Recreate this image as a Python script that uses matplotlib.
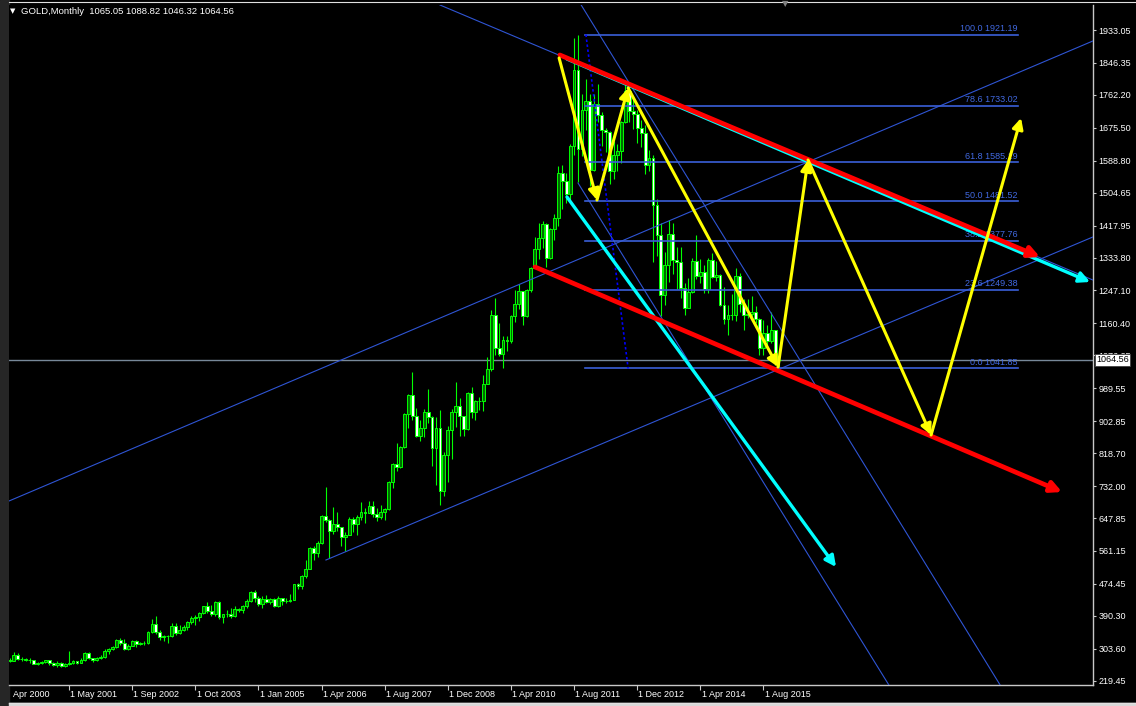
import numpy as np
import matplotlib.pyplot as plt
from matplotlib.lines import Line2D
from matplotlib.patches import Rectangle
import matplotlib.transforms as mtransforms

plt.rcParams['font.family'] = ['Liberation Sans', 'DejaVu Sans']

# monthly candles (open, high, low, close), one tuple per bar as drawn on the chart
ohlc_2000 = [(279, 288, 270, 274), (274, 280, 268, 272), (272, 294, 270, 288), (288, 292, 275, 277),
             (277, 282, 270, 277), (277, 280, 272, 275), (275, 278, 267, 273), (273, 275, 263, 264),
             (264, 268, 262, 266), (266, 272, 263, 269), (269, 275, 267, 273), (273, 274, 262, 265),
             (265, 268, 258, 262), (262, 272, 255, 267), (267, 268, 255, 258), (258, 266, 255, 263)]
ohlc_2001 = [(263, 298, 262, 267), (267, 275, 263, 270), (270, 272, 263, 265), (265, 280, 265, 273),
             (273, 294, 271, 293), (293, 294, 276, 279), (279, 280, 269, 275), (275, 282, 271, 279)]
ohlc_2002 = [(279, 288, 277, 282), (282, 304, 280, 297), (297, 305, 290, 302), (302, 312, 300, 308),
             (308, 328, 306, 326), (326, 332, 313, 318), (318, 330, 300, 304), (304, 316, 300, 312),
             (312, 327, 311, 324), (324, 326, 309, 317), (317, 322, 313, 318), (318, 323, 313, 318),
             (318, 350, 316, 347)]
ohlc_2003 = [(347, 383, 345, 368), (368, 390, 343, 347), (347, 352, 327, 334), (334, 340, 325, 336),
             (336, 341, 319, 336), (336, 372, 335, 364), (364, 372, 340, 346), (346, 367, 342, 354),
             (354, 366, 350, 360), (360, 376, 353, 375), (375, 391, 370, 385), (385, 393, 367, 386),
             (386, 401, 376, 398), (398, 417, 396, 416)]
ohlc_2004 = [(416, 427, 398, 402), (402, 418, 390, 396), (396, 430, 389, 427), (427, 429, 382, 387),
             (387, 396, 371, 394), (394, 405, 386, 395), (395, 410, 384, 391), (391, 416, 388, 408),
             (408, 412, 400, 406), (406, 420, 398, 416), (416, 434, 410, 429), (429, 456, 427, 453),
             (453, 457, 426, 438)]
ohlc_2005 = [(438, 442, 417, 422), (422, 443, 411, 435), (435, 445, 424, 428), (428, 438, 422, 435),
             (435, 437, 414, 416), (416, 442, 414, 436), (436, 437, 418, 430), (430, 436, 424, 429),
             (429, 448, 426, 433), (433, 474, 432, 473), (473, 477, 460, 470), (470, 497, 460, 495),
             (495, 538, 489, 513)]
ohlc_2006 = [(513, 571, 513, 568), (568, 574, 538, 556), (556, 587, 544, 582), (582, 655, 579, 654),
             (654, 730, 638, 643), (643, 644, 543, 614), (614, 677, 607, 633), (633, 663, 613, 624),
             (624, 625, 573, 599), (599, 610, 560, 604), (604, 650, 602, 646), (646, 650, 612, 632)]
ohlc_2007 = [(632, 656, 603, 650), (650, 690, 642, 665), (665, 673, 636, 662), (662, 692, 660, 679),
             (679, 692, 651, 659), (659, 673, 639, 650), (650, 683, 645, 665), (665, 675, 642, 672),
             (672, 745, 670, 743), (743, 794, 726, 789), (789, 845, 772, 783), (783, 838, 780, 834)]
ohlc_2008 = [(834, 925, 833, 923), (923, 975, 885, 971), (971, 1033, 906, 917), (917, 938, 860, 864),
             (864, 905, 850, 886), (886, 934, 860, 928), (928, 988, 897, 913), (913, 917, 786, 833),
             (833, 913, 736, 884), (884, 932, 681, 718), (718, 823, 705, 815), (815, 889, 742, 880)]
ohlc_2009 = [(880, 935, 802, 927), (927, 1007, 888, 942), (942, 964, 865, 916), (916, 917, 865, 883),
             (883, 980, 881, 978), (978, 992, 912, 927), (927, 960, 905, 955), (955, 966, 932, 955),
             (955, 1025, 931, 1001), (1001, 1071, 1000, 1040), (1040, 1195, 1034, 1182),
             (1182, 1227, 1076, 1096)]
ohlc_2010 = [(1096, 1162, 1075, 1081), (1081, 1127, 1044, 1118), (1118, 1127, 1088, 1113),
             (1113, 1183, 1110, 1180), (1180, 1249, 1165, 1212), (1212, 1265, 1198, 1245),
             (1245, 1246, 1156, 1181), (1181, 1252, 1177, 1248), (1248, 1310, 1242, 1307),
             (1307, 1388, 1307, 1357), (1357, 1424, 1330, 1385), (1385, 1431, 1360, 1421)]
ohlc_2011 = [(1421, 1424, 1309, 1332), (1332, 1412, 1330, 1410), (1410, 1448, 1381, 1439),
             (1439, 1575, 1418, 1556), (1556, 1577, 1462, 1536), (1536, 1557, 1478, 1500),
             (1500, 1633, 1480, 1628), (1628, 1912, 1604, 1828), (1828, 1921, 1532, 1620),
             (1620, 1764, 1600, 1722), (1722, 1803, 1669, 1746), (1746, 1764, 1523, 1565)]
ohlc_2012 = [(1565, 1764, 1563, 1737), (1737, 1791, 1692, 1710), (1710, 1718, 1627, 1669),
             (1669, 1676, 1613, 1664), (1664, 1666, 1527, 1561), (1561, 1640, 1540, 1604),
             (1604, 1632, 1562, 1614), (1614, 1693, 1582, 1691), (1691, 1790, 1688, 1772),
             (1772, 1796, 1692, 1719), (1719, 1755, 1672, 1713), (1713, 1723, 1635, 1675)]
ohlc_2013 = [(1675, 1695, 1626, 1663), (1663, 1684, 1555, 1578), (1578, 1616, 1562, 1595),
             (1595, 1603, 1321, 1472), (1472, 1487, 1338, 1393), (1393, 1424, 1180, 1234),
             (1234, 1348, 1208, 1313), (1313, 1434, 1270, 1396), (1396, 1425, 1291, 1327),
             (1327, 1361, 1251, 1323), (1323, 1362, 1227, 1253), (1253, 1267, 1182, 1202)]
ohlc_2014 = [(1202, 1280, 1202, 1244), (1244, 1332, 1240, 1326), (1326, 1392, 1277, 1284),
             (1284, 1331, 1268, 1295), (1295, 1315, 1240, 1250), (1250, 1332, 1240, 1327),
             (1327, 1345, 1281, 1282), (1282, 1324, 1273, 1287), (1287, 1290, 1206, 1210),
             (1210, 1255, 1160, 1171), (1171, 1208, 1131, 1183), (1183, 1238, 1170, 1183)]
ohlc_2015 = [(1183, 1307, 1167, 1284), (1284, 1294, 1190, 1212), (1212, 1224, 1142, 1183),
             (1183, 1224, 1175, 1184), (1184, 1232, 1170, 1190), (1190, 1205, 1162, 1172),
             (1172, 1174, 1077, 1095), (1095, 1170, 1078, 1134), (1134, 1157, 1098, 1115),
             (1115, 1191, 1108, 1142), (1142, 1142, 1052, 1065), (1065.05, 1088.82, 1046.32, 1064.56)]

# time axis: one label every 16 bars
date_ticks = [16, 32, 48, 64, 80, 96, 112, 128, 144, 160, 176, 192]
date_labels = ['1 May 2001', '1 Sep 2002', '1 Oct 2003', '1 Jan 2005', '1 Apr 2006', '1 Aug 2007',
               '1 Dec 2008', '1 Apr 2010', '1 Aug 2011', '1 Dec 2012', '1 Apr 2014', '1 Aug 2015']
first_label = 'Apr 2000'

price_ticks = [1933.05, 1846.35, 1762.20, 1675.50, 1588.80, 1504.65, 1417.95, 1333.80, 1247.10,
               1160.40, 1076.25, 989.55, 902.85, 818.70, 732.00, 647.85, 561.15, 474.45, 390.30,
               303.60, 219.45]
last_price = 1064.56

# fibonacci retracement
fib_pct = ['100.0', '78.6', '61.8', '50.0', '38.2', '23.6', '0.0']
fib_price = [1921.19, 1733.02, 1585.19, 1481.52, 1377.76, 1249.38, 1041.85]
fib_span = (146.8, 256.5)
fib_diag = [(147.0, 1921.19), (157.7, 1041.85)]

# thin blue trend lines (bar, price)
blue_lines = [
    [(0.76, 692.7), (275.5, 1904.2)],
    [(81.1, 537.3), (275.5, 1388.0)],
    [(110.0, 1999.0), (275.5, 1274.7)],
    [(145.8, 1999.0), (252.0, 208.0)],
    [(145.0, 1530.2), (223.8, 208.0)],
]

# drawn arrows
cyan_upper = [(142.2, 1856.7), (274.8, 1269.5)]
cyan_lower = [(142.2, 1493.3), (210.4, 518.9)]
red_upper = [(140.4, 1867.3), (262.1, 1335.3)]
red_lower = [(134.1, 1309.0), (267.7, 716.4)]
yellow_x = [140.2, 149.8, 157.7, 195.7, 203.3, 234.5, 257.3]
yellow_y = [1859.4, 1485.4, 1780.4, 1045.6, 1590.8, 866.5, 1701.4]

W, H = 1136, 706
fig = plt.figure(figsize=(W / 100, H / 100), dpi=100, facecolor='black')
ax = fig.add_axes([9 / W, (H - 685) / H, (1093 - 9) / W, (685 - 5) / H])
ax.set_facecolor('black')
ax.set_xlim(0.76, 275.54)
ax.set_ylim(208.1, 1999.0)

candles = np.array(ohlc_2000 + ohlc_2001 + ohlc_2002 + ohlc_2003 + ohlc_2004 + ohlc_2005 + ohlc_2006
                   + ohlc_2007 + ohlc_2008 + ohlc_2009 + ohlc_2010 + ohlc_2011 + ohlc_2012
                   + ohlc_2013 + ohlc_2014 + ohlc_2015, dtype=float)
opens, highs, lows, closes = candles.T
bars = np.arange(len(candles))

up = closes >= opens
ax.vlines(bars, lows, highs, color='#00ff00', lw=0.8, zorder=2)
ax.bar(bars, np.abs(closes - opens), bottom=np.minimum(opens, closes), width=0.72,
       color=np.where(up, '#006a00', '#ffffff'), edgecolor='#00ff00', linewidth=0.7, zorder=2.1)

# current price line
ax.axhline(last_price, color='#778899', lw=1.0, zorder=1.5)

# thin blue lines
for seg in blue_lines:
    (x0, y0), (x1, y1) = seg
    ax.plot([x0, x1], [y0, y1], color='#2f55d4', lw=0.8, zorder=3)

# fibonacci levels
for pct, p in zip(fib_pct, fib_price):
    ax.plot(fib_span, [p, p], color='#3a5fd9', lw=1.2, zorder=3)
    ax.text(fib_span[1], p + 4, f'{pct} {p:.2f}', color='#4169e1', fontsize=6.5,
            ha='right', va='bottom', zorder=3)
ax.plot([fib_diag[0][0], fib_diag[1][0]], [fib_diag[0][1], fib_diag[1][1]],
        color='#0000ff', lw=1.2, ls=(0, (1.5, 1.5)), zorder=3)


def arrow(seg, color, lw, scale, z):
    (x0, y0), (x1, y1) = seg
    ax.annotate('', xy=(x1, y1), xytext=(x0, y0), zorder=z,
                arrowprops=dict(arrowstyle='-|>', color=color, lw=lw, mutation_scale=scale,
                                shrinkA=0, shrinkB=0))


arrow(cyan_upper, '#00ffff', 2.4, 16, 4)
arrow(cyan_lower, '#00ffff', 2.4, 16, 4)
arrow(red_upper, '#ff0000', 3.4, 16, 5)
arrow(red_lower, '#ff0000', 3.4, 16, 5)
for i in range(len(yellow_x) - 1):
    arrow([(yellow_x[i], yellow_y[i]), (yellow_x[i + 1], yellow_y[i + 1])], '#ffff00', 2.2, 16, 6)

# axes styling
for s in ['top', 'left']:
    ax.spines[s].set_visible(False)
for s in ['right', 'bottom']:
    ax.spines[s].set_color('#c8c8c8')
    ax.spines[s].set_linewidth(1.0)
ax.yaxis.tick_right()
ax.set_yticks(price_ticks)
ax.set_yticklabels([f'{v:.2f}' for v in price_ticks])
ax.tick_params(axis='y', colors='#c8c8c8', labelcolor='white', labelsize=6.5, length=2.5, pad=1.5)
ax.set_xticks(date_ticks)
ax.set_xticklabels([])
ax.tick_params(axis='x', colors='#c8c8c8', length=3.5)
bt = mtransforms.blended_transform_factory(ax.transData, ax.transAxes)
for t, lab in zip(date_ticks, date_labels):
    ax.text(t + 0.3, -0.0145, lab, transform=bt, color='white', fontsize=6.5,
            ha='left', va='center', clip_on=False)
ax.text(1.8, -0.0145, first_label, transform=bt, color='white', fontsize=6.5,
        ha='left', va='center', clip_on=False)

# last price tag on the price scale
pt = mtransforms.blended_transform_factory(ax.transAxes, ax.transData)
ax.text(1.003, last_price, f'{last_price:.2f}', transform=pt, color='black', fontsize=6.5,
        ha='left', va='center', clip_on=False, zorder=10,
        bbox=dict(boxstyle='square,pad=0.15', fc='white', ec='#404040', lw=0.6))

# window frame pieces
fig.add_artist(Rectangle((0, 0), 8.5 / W, 1, transform=fig.transFigure, color='#262626', zorder=0))
fig.add_artist(Line2D([8.5 / W, 1], [1 - 1.7 / H, 1 - 1.7 / H], transform=fig.transFigure,
                      color='#e0e0e0', lw=0.8))
fig.add_artist(Line2D([8.5 / W, 1], [3.5 / H, 3.5 / H], transform=fig.transFigure,
                      color='#e0e0e0', lw=1.0))
fig.add_artist(Rectangle((8.5 / W, 0), 1, 3 / H, transform=fig.transFigure, color='#d8d8d8', zorder=0))

# symbol caption
fig.text(10 / W, 1 - 11 / H, '▼', color='white', fontsize=5, ha='left', va='center',
         family=['DejaVu Sans'])
fig.text(21 / W, 1 - 11 / H, 'GOLD,Monthly  1065.05 1088.82 1046.32 1064.56', color='white',
         fontsize=6.8, ha='left', va='center')
fig.text(785 / W, 1 - 4 / H, '▼', color='#808080', fontsize=6, ha='center', va='center',
         family=['DejaVu Sans'])

fig.savefig('out.png', dpi=100, facecolor='black')
